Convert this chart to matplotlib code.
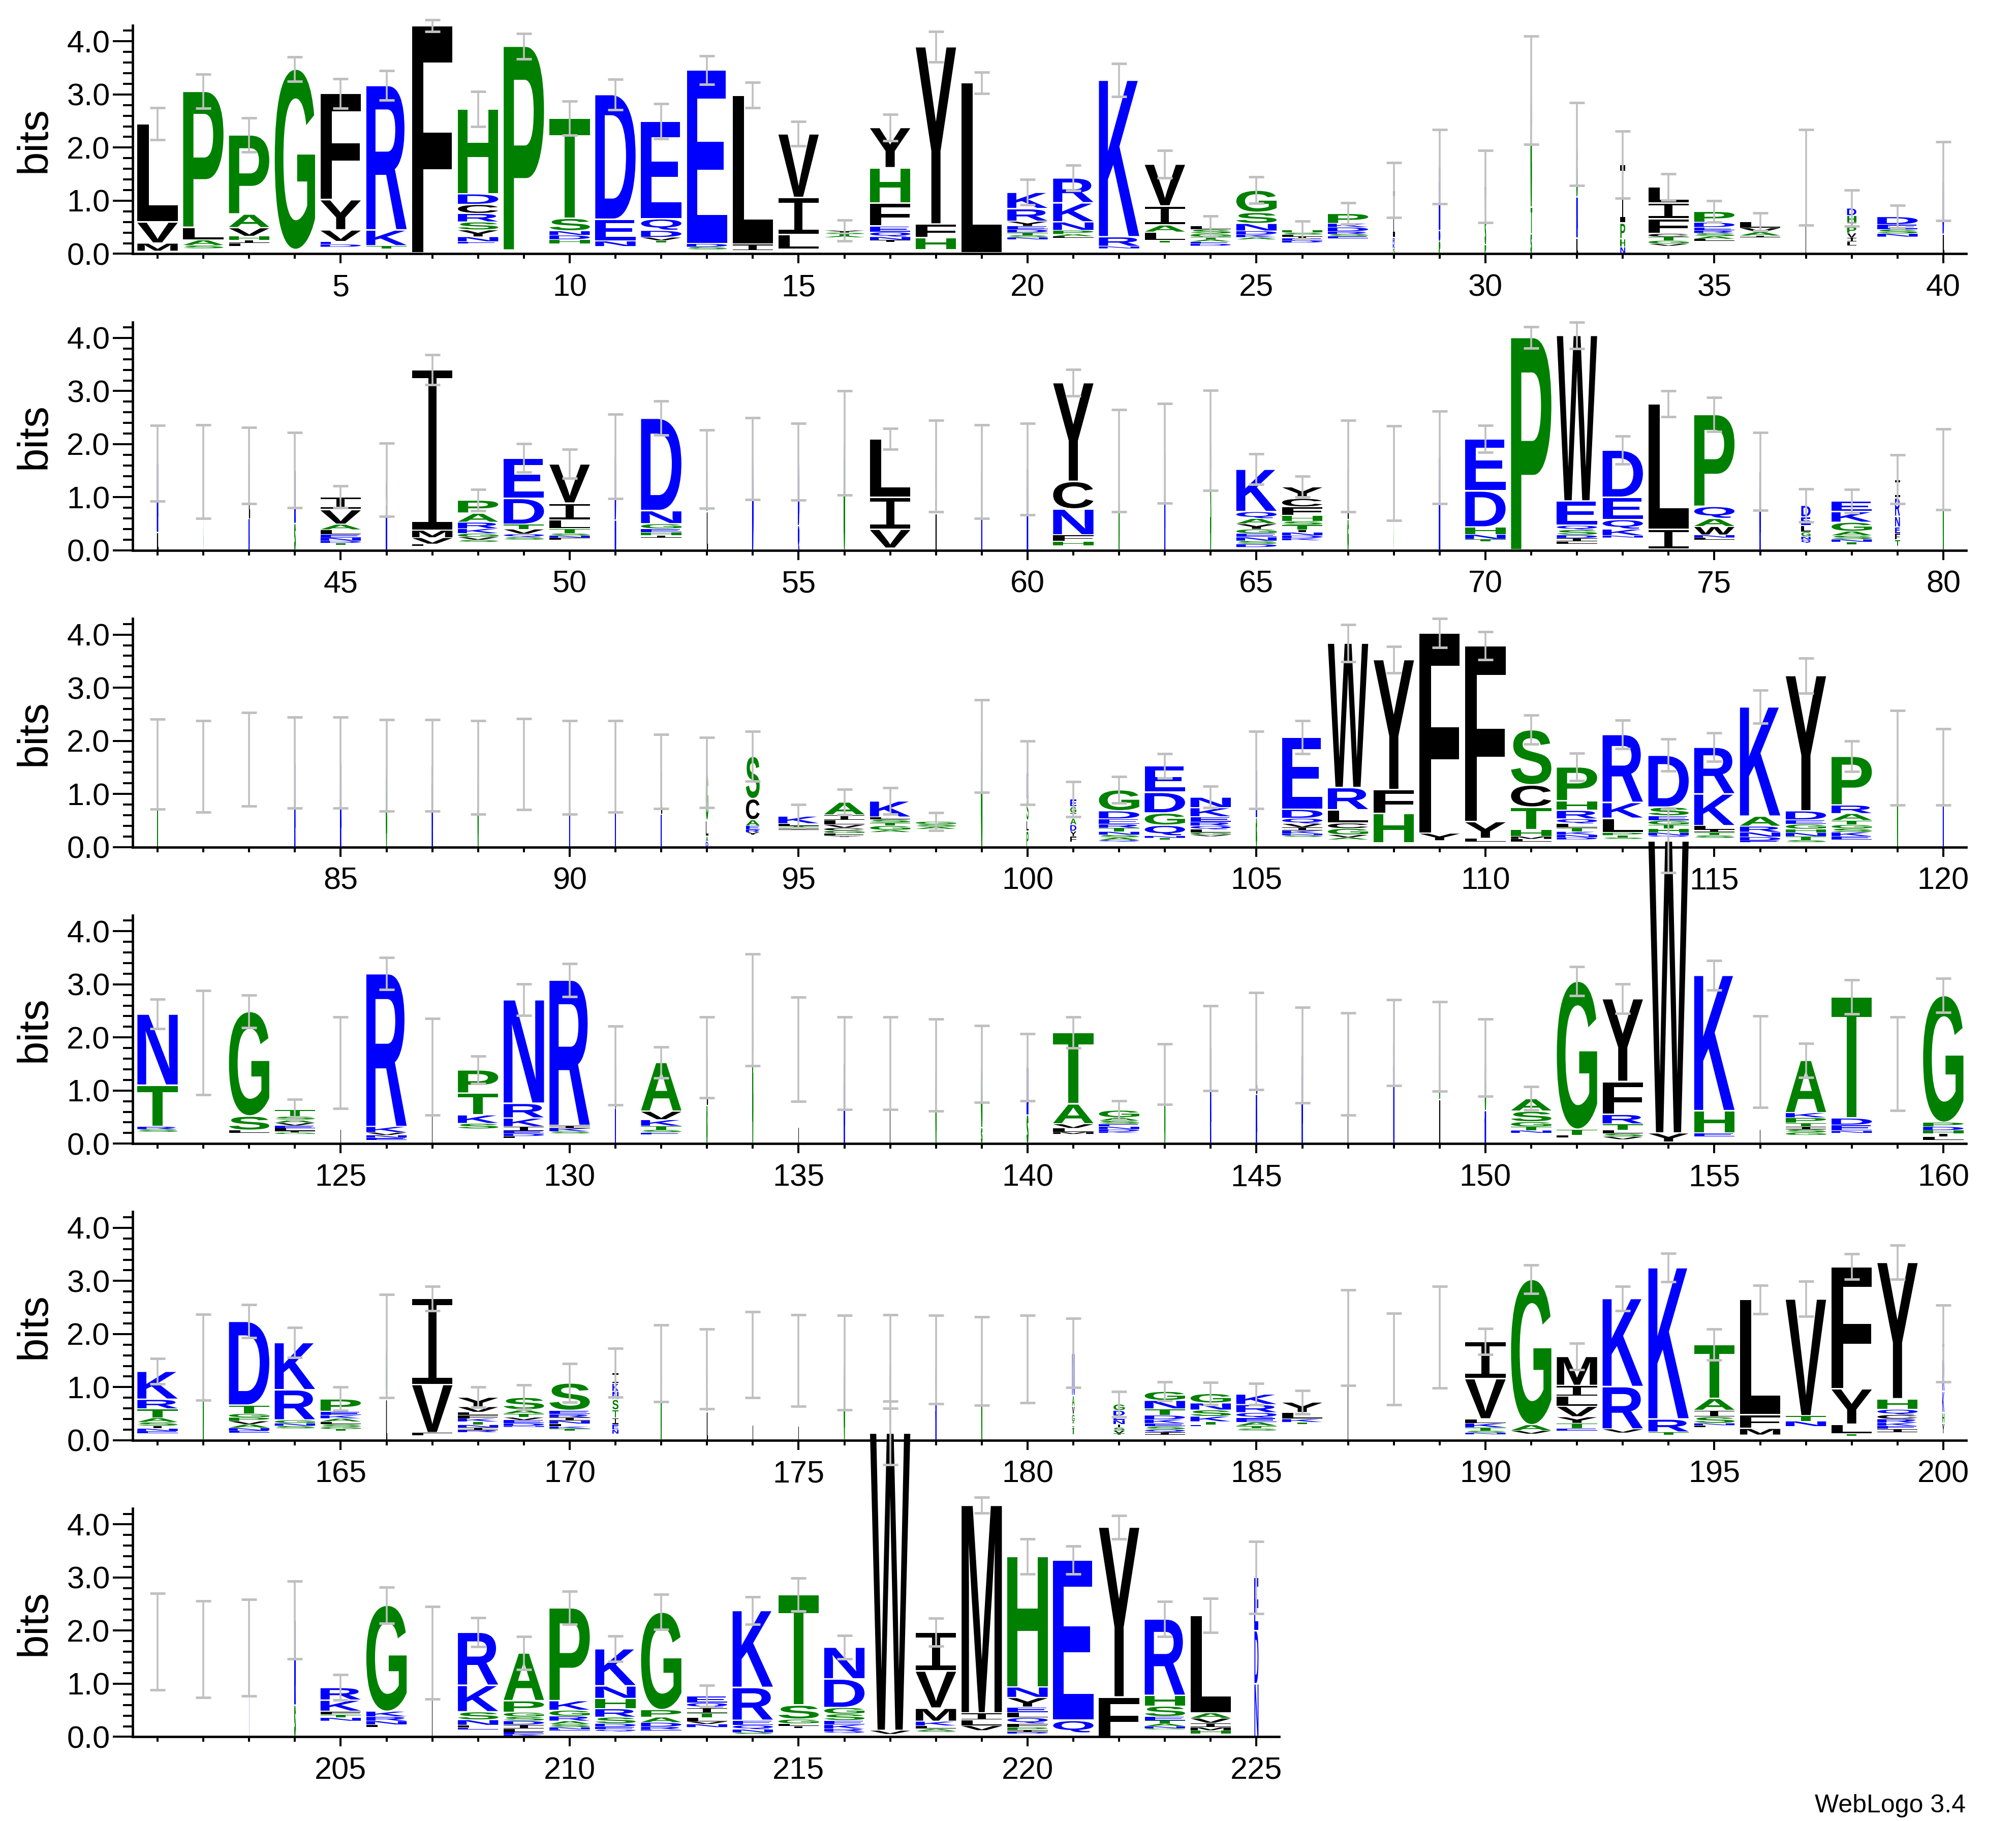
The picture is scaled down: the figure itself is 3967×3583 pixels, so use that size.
"""Sequence logo (WebLogo style, hydrophobicity colours) redrawn with matplotlib."""
import matplotlib

matplotlib.use("Agg")
import matplotlib.pyplot as plt
from matplotlib.font_manager import FontProperties
from matplotlib.patches import PathPatch
from matplotlib.path import Path
from matplotlib.textpath import TextPath
from matplotlib.ticker import FormatStrFormatter, MultipleLocator
from matplotlib.transforms import Affine2D

# stacks: letters listed top -> bottom as "letter:bits"; "." = unseen small residues
STACKS_1 = [
    "L:1.85 V:0.40 M:0.15 .:0.05", "P:2.56 L:0.24 A:0.10 S:0.06 .:0.10",
    "P:1.49 A:0.26 V:0.16 H:0.07 I:0.06 L:0.06 .:0.14", "G:3.40 .:0.08",
    "F:2.00 Y:0.57 V:0.22 E:0.05 D:0.05 .:0.13", "R:2.72 K:0.30 T:0.05 .:0.10",
    "F:4.28 .:0.02", "H:1.60 D:0.20 C:0.17 R:0.16 S:0.15 Y:0.13 N:0.09 E:0.04 .:0.19",
    "P:3.84 .:0.07", "T:1.88 S:0.24 N:0.08 D:0.08 H:0.08 .:0.19",
    "D:2.35 E:0.41 N:0.10 .:0.14", "E:1.84 Q:0.22 D:0.13 V:0.06 T:0.04 .:0.21",
    "E:3.27 D:0.06 S:0.05 .:0.08", "L:2.81 I:0.12 .:0.06",
    "V:1.20 I:0.70 L:0.28 .:0.08", "Y:0.04 S:0.03 T:0.03 A:0.03 .:0.31",
    "Y:0.76 H:0.66 F:0.44 E:0.11 Q:0.09 N:0.06 I:0.04 .:0.22", "Y:3.34 F:0.26 H:0.22 .:0.08",
    "L:3.20 .:0.02", "K:0.31 R:0.24 Y:0.09 E:0.06 D:0.06 T:0.05 S:0.04 N:0.04 .:0.27",
    "R:0.47 K:0.36 N:0.16 P:0.07 A:0.04 L:0.03 .:0.30", "K:2.95 R:0.18 N:0.04 .:0.10",
    "V:0.79 I:0.36 A:0.13 L:0.16 T:0.04 .:0.21", "L:0.06 S:0.08 G:0.06 T:0.05 A:0.04 E:0.04 D:0.04 .:0.15",
    "G:0.42 S:0.21 N:0.14 D:0.07 K:0.05 A:0.04 .:0.27", "H:0.05 S:0.04 L:0.04 I:0.03 E:0.04 D:0.04 .:0.21",
    "P:0.19 K:0.07 D:0.08 R:0.05 S:0.04 E:0.04 .:0.29", "I:0.90 R:0.10 K:0.10 S:0.10",
    "N:1.20 D:0.20 P:0.24", "V:0.60 S:0.50 P:0.17",
    "G:2.20 T:0.50 S:0.38", "G:1.00 N:0.77 L:0.30",
    "I:1.10 P:0.30 H:0.15 N:0.13", "L:0.30 I:0.30 F:0.28 C:0.06 T:0.07 G:0.06 V:0.04 .:0.15",
    "P:0.21 D:0.09 E:0.06 R:0.05 S:0.06 A:0.05 L:0.04 .:0.24", "L:0.11 V:0.08 A:0.07 I:0.03 .:0.31",
    "L:1.44", "D:0.14 H:0.13 I:0.08 P:0.12 V:0.09 I:0.07 L:0.08 .:0.15",
    "D:0.15 E:0.09 S:0.08 N:0.06 .:0.32", "D:1.00 L:0.37",
]
ERR_1 = [.30, .32, .32, .23, .28, .28, .11, .33, .24, .32, .29, .33, .27, .24, .23, .20, .25, .29, .20, .24,
         .24, .31, .26, .19, .25, .17, .20, .52, .70, .68, 1.02, .78, .63, .25, .20, .17, .90, .34, .21, .74]
WID_1 = [1] * 27 + [.05, .02, .02, .02, .02, .12, 1, 1, 1, .005, .23, 1, .02]

STACKS_2 = [
    "N:1.30 L:0.34", "S:1.48", "L:1.00 N:0.60", "N:1.00 S:0.51",
    "I:0.24 V:0.28 A:0.10 L:0.09 E:0.06 N:0.06 D:0.04 T:0.04 .:0.10", "S:0.70 N:0.63",
    "I:3.02 M:0.14 V:0.12 L:0.04 .:0.08", "P:0.25 A:0.17 R:0.12 K:0.09 G:0.07 V:0.05 S:0.04 .:0.16",
    "E:0.76 D:0.49 T:0.09 V:0.09 Q:0.06 S:0.05 .:0.20", "V:0.74 I:0.32 L:0.16 T:0.09 S:0.04 N:0.04 F:0.04 .:0.20",
    "D:1.20 N:0.57", "D:1.74 N:0.25 G:0.09 E:0.07 H:0.06 I:0.04 .:0.24",
    "G:0.80 L:0.73", "D:1.73", "D:1.20 Q:0.47", "G:2.02",
    "L:1.10 I:0.60 V:0.36 .:0.04", "S:0.90 L:0.69", "N:1.48", "N:1.53",
    "Y:1.86 C:0.52 N:0.49 F:0.12 H:0.08 .:0.09", "G:1.69", "N:1.83", "S:2.07",
    "K:0.80 Q:0.13 A:0.10 Y:0.10 G:0.08 E:0.07 N:0.07 S:0.06 D:0.06 .:0.06",
    "Y:0.22 C:0.16 F:0.16 H:0.11 S:0.07 T:0.09 I:0.05 N:0.06 D:0.05 K:0.04 .:0.19",
    "L:1.00 G:0.59", "G:1.45", "N:1.75", "E:0.98 D:0.68 H:0.14 N:0.09 T:0.04 .:0.17",
    "P:4.00 .:0.01", "W:3.12 E:0.46 Q:0.08 S:0.10 D:0.06 I:0.06 L:0.05 .:0.12",
    "D:0.89 E:0.42 Q:0.18 K:0.12 N:0.04 .:0.24", "L:2.36 I:0.38 .:0.02",
    "P:1.73 Q:0.23 A:0.15 W:0.16 N:0.05 L:0.04 .:0.20", "N:1.49",
    "D:0.22 E:0.16 L:0.12 G:0.09 N:0.06 Q:0.06 .:0.14", "E:0.20 K:0.20 G:0.17 A:0.08 S:0.07 N:0.05 T:0.05 .:0.11",
    "I:0.35 R:0.35 N:0.20 E:0.12 F:0.12 T:0.12 .:0.08", "G:1.53",
]
ERR_2 = [.71, .88, .72, .71, .21, .69, .28, .20, .27, .27, .79, .32, .74, .77, .72, .98, .20, .86, .88, .86,
         .25, .96, .94, .94, .29, .20, .86, .89, .87, .25, .20, .25, .26, .24, .32, .73, .31, .22, .46, .76]
WID_2 = [.02, .005, .01, .02, 1, .02, 1, 1, 1, 1, .02, 1, .01, .02, .02, .02, 1, .01, .01, .02,
         1, .01, .01, .01, 1, 1, .01, .005, .02, 1, 1, 1, 1, 1, 1, .01, .23, 1, .12, .01]

STACKS_3 = [
    "G:1.56", "L:1.52", "L:1.65", "N:1.59", "N:1.59", "G:1.54", "N:1.54", "G:1.50", "L:1.56", "N:1.50",
    "N:1.52", "L:0.80 N:0.62", "G:0.90 L:0.30 A:0.10 D:0.10",
    "S:0.80 C:0.40 A:0.11 E:0.07 R:0.05 Y:0.05 .:0.23", "K:0.14 L:0.04 T:0.04 I:0.04 .:0.32",
    "A:0.25 I:0.09 L:0.09 V:0.06 C:0.05 G:0.05 F:0.05 Y:0.02 .:0.19",
    "K:0.31 L:0.04 S:0.06 T:0.06 G:0.08 A:0.04 .:0.28", "G:0.05 S:0.05 A:0.04 .:0.34",
    "G:1.90", "K:0.50 S:0.40 L:0.20 P:0.30",
    "E:0.14 G:0.12 I:0.10 A:0.12 D:0.12 Y:0.10 F:0.10 .:0.10",
    "G:0.40 D:0.15 E:0.10 R:0.07 T:0.07 N:0.06 S:0.05 A:0.05 Q:0.03 .:0.10",
    "E:0.50 D:0.39 G:0.23 Q:0.20 N:0.04 T:0.03 .:0.14",
    "N:0.20 K:0.17 E:0.10 R:0.07 Q:0.07 L:0.06 G:0.04 V:0.03 .:0.20", "N:0.90 G:0.55",
    "E:1.36 D:0.17 Q:0.10 V:0.07 I:0.06 K:0.06 N:0.03 S:0.03 .:0.19",
    "W:2.72 R:0.42 L:0.25 C:0.10 G:0.12 V:0.05 A:0.04 .:0.14", "Y:2.45 F:0.45 H:0.55 .:0.08",
    "F:3.77 Y:0.14 .:0.12", "F:3.31 Y:0.32 L:0.06 .:0.10",
    "S:1.04 C:0.42 T:0.42 H:0.13 M:0.05 L:0.05 .:0.10",
    "P:0.64 H:0.18 R:0.16 Q:0.09 L:0.08 T:0.07 K:0.06 N:0.05 D:0.04 .:0.14",
    "R:1.28 K:0.30 L:0.27 P:0.05 T:0.04 S:0.03 .:0.15",
    "D:0.98 S:0.16 E:0.09 G:0.08 T:0.07 H:0.08 N:0.05 Q:0.03 .:0.19",
    "R:0.88 K:0.60 L:0.07 I:0.05 T:0.06 S:0.05 .:0.17", "K:2.06 A:0.19 R:0.11 N:0.09 D:0.07 E:0.03 .:0.09",
    "Y:2.55 D:0.17 E:0.08 G:0.09 H:0.07 N:0.07 T:0.07 S:0.04 .:0.09",
    "P:0.92 R:0.16 A:0.13 T:0.08 G:0.07 S:0.07 K:0.08 E:0.06 .:0.14", "G:1.68", "N:1.51",
]
ERR_3 = [.85, .86, .88, .86, .86, .86, .86, .88, .86, .88, .86, .70, .66, .47, .22, .24, .25, .17, .87, .60,
         .33, .25, .23, .20, .73, .31, .35, .25, .27, .26, .27, .26, .27, .30, .27, .31, .33, .29, .89, .72]
WID_3 = [.01, .005, .005, .01, .01, .01, .01, .01, .005, .01, .01, .01, .06, .34, 1, 1, 1, 1, .02, .05,
         .15, 1, 1, 1, .01, 1, 1, 1, 1, 1, 1, 1, 1, 1, 1, 1, 1, 1, .01, .01]

STACKS_4 = [
    "N:1.34 T:0.78 R:0.05 S:0.05 .:0.22", "L:1.90", "G:1.97 S:0.27 L:0.05 .:0.20",
    "T:0.13 S:0.06 A:0.06 V:0.05 E:0.05 L:0.05 I:0.03 G:0.03 .:0.18", "L:1.52",
    "R:2.88 K:0.11 V:0.05 N:0.05 E:0.04 .:0.07", "L:1.45", "P:0.44 T:0.41 K:0.16 S:0.10 .:0.28",
    "N:1.95 R:0.28 K:0.16 I:0.08 E:0.05 D:0.05 L:0.04 .:0.10", "R:2.74 I:0.05 K:0.06 S:0.04 .:0.19",
    "L:0.80 N:0.67", "A:0.92 V:0.16 K:0.12 T:0.07 S:0.05 E:0.04 .:0.17", "L:0.90 G:0.72",
    "G:2.52", "L:1.78", "N:1.51", "L:1.51", "G:1.48", "G:1.20 S:0.30", "N:0.90 S:0.54",
    "T:1.34 A:0.38 V:0.08 L:0.07 M:0.04 .:0.18", "G:0.14 A:0.06 S:0.06 E:0.05 N:0.05 D:0.04 K:0.03 .:0.20",
    "G:1.31", "N:1.80", "L:1.00 N:0.93", "N:1.67", "L:1.50", "N:1.90", "G:1.00 L:0.83", "G:1.00 N:0.62",
    "A:0.24 S:0.20 G:0.09 T:0.07 N:0.05 .:0.20", "G:2.79 T:0.11 L:0.05 .:0.11",
    "Y:1.56 F:0.62 R:0.18 T:0.12 L:0.06 S:0.06 V:0.05 .:0.08", "W:5.50 Y:0.17 .:0.03",
    "K:2.55 H:0.42 E:0.07 .:0.13", "L:1.54", "A:0.99 K:0.09 P:0.10 T:0.07 I:0.05 S:0.06 G:0.05 .:0.16",
    "T:2.28 D:0.13 E:0.11 N:0.04 .:0.20", "L:1.50", "G:2.39 P:0.08 D:0.07 H:0.06 I:0.06 L:0.07 .:0.06",
]
ERR_4 = [.28, .98, .31, .19, .86, .30, .91, .26, .30, .31, .74, .29, .76, 1.05, .98, .87, .87, .87, .72, .63,
         .29, .18, .57, .80, .91, .90, .96, .81, .84, .73, .22, .27, .28, .60, .28, .86, .32, .32, .88, .32]
WID_4 = [1, .005, 1, 1, .005, 1, .005, 1, 1, 1, .01, 1, .01, .01, .005, .01, .005, .01, .02, .03,
         1, 1, .01, .01, .01, .01, .005, .01, .01, .02, 1, 1, 1, 1, 1, .005, 1, 1, .005, 1]

STACKS_5 = [
    "K:0.53 R:0.18 T:0.17 A:0.08 S:0.07 I:0.05 N:0.05 E:0.04 .:0.13", "G:1.56",
    "D:1.58 T:0.16 G:0.07 P:0.07 V:0.06 A:0.07 N:0.05 E:0.04 .:0.14",
    "K:0.89 R:0.57 G:0.06 N:0.05 S:0.05 .:0.22",
    "P:0.24 E:0.07 K:0.06 A:0.06 L:0.05 S:0.05 G:0.04 T:0.03 .:0.18", "G:1.00 L:0.77",
    "I:1.62 V:0.91 F:0.05 .:0.09",
    "Y:0.18 V:0.10 L:0.06 F:0.06 K:0.06 T:0.06 N:0.05 I:0.05 R:0.04 .:0.15",
    "S:0.24 A:0.07 T:0.07 V:0.05 E:0.06 D:0.05 N:0.02 .:0.25",
    "S:0.52 E:0.07 R:0.06 I:0.06 N:0.06 L:0.05 K:0.04 T:0.04 .:0.18",
    "I:0.20 K:0.15 N:0.15 S:0.20 T:0.15 I:0.12 E:0.10 N:0.08 .:0.12",
    "G:1.45", "G:0.80 L:0.54", "L:1.61", "L:1.50", "G:1.46", "G:1.48", "G:0.80 N:0.72", "G:1.49", "L:1.53",
    "N:0.80 A:0.20 V:0.15 G:0.15 I:0.10 T:0.14 .:0.10",
    "G:0.12 D:0.10 E:0.08 N:0.08 I:0.06 S:0.06 V:0.05 T:0.03 .:0.10",
    "G:0.17 N:0.16 T:0.12 D:0.08 K:0.07 E:0.06 S:0.06 Q:0.05 I:0.05 .:0.10",
    "G:0.18 N:0.13 S:0.12 K:0.10 T:0.06 E:0.03 .:0.26",
    "K:0.20 R:0.15 Q:0.10 E:0.08 A:0.07 T:0.05 S:0.04 .:0.18", "Y:0.20 L:0.12 K:0.06 T:0.04 .:0.30",
    "L:1.93", "L:1.53", "L:1.94",
    "I:0.70 V:0.76 L:0.08 K:0.08 T:0.06 S:0.04 N:0.03 .:0.11", "G:2.74 A:0.11 V:0.06 .:0.12",
    "M:0.55 I:0.20 L:0.19 V:0.20 Y:0.12 T:0.10 E:0.04 .:0.18", "K:1.66 R:0.80 V:0.07 .:0.14",
    "K:2.85 R:0.25 T:0.05 .:0.10", "T:1.01 A:0.23 I:0.12 S:0.12 N:0.04 L:0.04 .:0.24",
    "L:2.17 F:0.26 M:0.12 .:0.10", "V:2.20 T:0.10 N:0.10 .:0.26", "F:2.30 Y:0.67 L:0.18 T:0.04 .:0.08",
    "Y:2.57 H:0.20 Q:0.10 C:0.08 R:0.07 K:0.06 E:0.06 I:0.06 .:0.15", "T:0.30 R:0.60 K:0.40 H:0.20 Y:0.20 .:0.12",
]
ERR_5 = [.24, .81, .31, .28, .22, .97, .23, .19, .23, .36, .46, .72, .75, .81, .86, .89, .88, .83, .83, .82,
         .65, .24, .18, .21, .20, .22, .90, .86, .96, .24, .27, .25, .23, .27, .29, .27, .33, .24, .32, .72]
WID_5 = [1, .01, 1, 1, 1, .01, 1, 1, 1, 1, .15, .01, .01, .005, .005, .01, .01, .01, .01, .005,
         .06, .28, 1, 1, 1, 1, .005, .005, .005, 1, 1, 1, 1, 1, 1, 1, 1, 1, 1, .05]

STACKS_6 = [
    "L:1.79", "L:1.65", "N:1.68", "N:1.60 S:0.60", "R:0.24 K:0.21 F:0.06 T:0.06 N:0.06 .:0.30",
    "G:2.00 K:0.10 R:0.08 N:0.07 L:0.05 .:0.18", "L:1.58",
    "R:1.00 K:0.50 S:0.15 N:0.10 L:0.05 E:0.03 .:0.14",
    "A:0.90 P:0.22 G:0.08 S:0.08 D:0.07 I:0.08 L:0.06 E:0.04 K:0.03 .:0.02",
    "P:1.75 K:0.18 G:0.11 R:0.09 A:0.06 S:0.06 N:0.04 E:0.02 .:0.12",
    "K:0.70 N:0.24 H:0.19 R:0.16 S:0.12 D:0.06 E:0.05 Q:0.04 .:0.10",
    "G:1.84 P:0.14 A:0.10 D:0.08 R:0.05 E:0.02 .:0.12",
    "E:0.13 Q:0.09 I:0.10 T:0.09 L:0.07 V:0.05 N:0.06 .:0.18",
    "K:1.45 R:0.62 E:0.09 Q:0.08 N:0.06 S:0.03 .:0.05", "T:2.08 S:0.27 G:0.08 L:0.05 I:0.04 .:0.16",
    "N:0.60 D:0.54 G:0.12 S:0.12 E:0.08 K:0.08 R:0.05 Q:0.03 .:0.07", "W:5.60 V:0.07 .:0.05",
    "I:0.73 V:0.70 M:0.25 K:0.08 L:0.06 A:0.04 S:0.02 .:0.09", "M:3.91 I:0.13 L:0.11 V:0.09 .:0.12",
    "H:2.46 N:0.20 Y:0.18 E:0.10 L:0.10 Q:0.11 F:0.07 P:0.05 I:0.04 D:0.03 .:0.06",
    "E:3.02 Q:0.24 .:0.07", "Y:3.20 F:0.75",
    "R:1.44 H:0.20 S:0.20 E:0.07 T:0.06 A:0.05 N:0.04 G:0.02 .:0.14",
    "L:1.84 A:0.10 V:0.09 I:0.08 M:0.06 H:0.06 .:0.06", "E:1.00 D:1.00 N:1.00",
]
ERR_6 = [.91, .91, .91, .73, .24, .34, .87, .27, .31, .31, .24, .33, .20, .26, .31, .22, .60, .26, .15, .33,
         .26, .22, .33, .32, .68]
WID_6 = [.005, .005, .005, .02, 1, 1, .005, 1, 1, 1, 1, 1, 1, 1, 1, 1, 1, 1, 1, 1, 1, 1, 1, 1, .1]

ROWS = [
    (1, STACKS_1, ERR_1, WID_1), (41, STACKS_2, ERR_2, WID_2), (81, STACKS_3, ERR_3, WID_3),
    (121, STACKS_4, ERR_4, WID_4), (161, STACKS_5, ERR_5, WID_5), (201, STACKS_6, ERR_6, WID_6),
]

BLUE = "#0000ff"
GREEN = "#008000"
BLACK = "#000000"
COLOR = {}
for grp, col in (("RKDENQ", BLUE), ("SGHTAP", GREEN), ("YVMCLFIW", BLACK)):
    for c in grp:
        COLOR[c] = col

FP = FontProperties(family="Liberation Sans", weight="bold")
_glyphs = {}


def i_path(bar):
    # WebLogo's I: full-width bars top and bottom, thin stem
    s0, s1 = 0.40, 0.60
    v = [(0, 0), (1, 0), (1, bar), (s1, bar), (s1, 1 - bar), (1, 1 - bar), (1, 1),
         (0, 1), (0, 1 - bar), (s0, 1 - bar), (s0, bar), (0, bar), (0, 0)]
    return Path(v, [Path.MOVETO] + [Path.LINETO] * 11 + [Path.CLOSEPOLY])


def glyph(ch):
    if ch not in _glyphs:
        p = TextPath((0, 0), ch, size=1, prop=FP)
        _glyphs[ch] = (p, p.get_extents())
    return _glyphs[ch]


def draw_letter(ax, ch, xc, y0, w, h, lw):
    gap = min(0.03, 0.12 * h)
    hh = h - gap
    if ch == "I":
        p = i_path(min(0.12, 0.16 / max(hh, 0.01) * 0.5 + 0.02))
        p = Affine2D().scale(w, hh).translate(xc - w / 2, y0 + gap / 2).transform_path(p)
    else:
        p, bb = glyph(ch)
        t = (Affine2D().translate(-bb.x0, -bb.y0)
             .scale(w / bb.width, hh / bb.height)
             .translate(xc - w / 2, y0 + gap / 2))
        p = t.transform_path(p)
    ax.add_patch(PathPatch(p, facecolor=COLOR[ch], edgecolor=COLOR[ch] if lw else "none",
                           lw=lw, clip_on=False, zorder=3))


W_PX, H_PX = 3967, 3583
SPACING = 90.1          # px per position
LEFT_PX = 261
BASE0 = 499.4           # px from top of the 0-bit line, first row
ROW_STEP = 583.6
BIT_PX = 104.5
YMAX = 4.3

fig = plt.figure(figsize=(W_PX / 100, H_PX / 100), dpi=100, facecolor="white")

for k, (start, stacks, errs, wids) in enumerate(ROWS):
    n = len(stacks)
    x0, x1 = start - 0.544, start + n - 0.5
    width_px = (x1 - x0) * SPACING
    base = BASE0 + ROW_STEP * k
    ax = fig.add_axes([LEFT_PX / W_PX, 1 - base / H_PX, width_px / W_PX, YMAX * BIT_PX / H_PX])
    ax.set_xlim(x0, x1)
    ax.set_ylim(0, YMAX)

    tops = []
    for i, (stack, wf) in enumerate(zip(stacks, wids)):
        pos = start + i
        items = [(t.split(":")[0], float(t.split(":")[1])) for t in stack.split()]
        y = 0.0
        lw = 0.9 if 0.005 < wf <= 0.03 else 0
        for ch, h in reversed(items):
            if ch != ".":
                draw_letter(ax, ch, pos, y, 0.88 * wf, h, lw)
            y += h
        tops.append(y)

    xs = [start + i for i in range(n)]
    ax.errorbar(xs, tops, yerr=errs, fmt="none", ecolor="#c0c0c0", elinewidth=2.6,
                capsize=11, capthick=3.6, zorder=5, clip_on=False)

    for s in ("top", "right"):
        ax.spines[s].set_visible(False)
    for s in ("left", "bottom"):
        ax.spines[s].set_linewidth(3.4)

    ax.xaxis.set_major_locator(MultipleLocator(5))
    ax.xaxis.set_minor_locator(MultipleLocator(1))
    ax.yaxis.set_major_locator(MultipleLocator(1))
    ax.yaxis.set_minor_locator(MultipleLocator(0.2))
    ax.yaxis.set_major_formatter(FormatStrFormatter("%.1f"))
    ax.tick_params(axis="y", which="major", length=28, width=2.9, pad=4, labelsize=44)
    ax.tick_params(axis="y", which="minor", length=14, width=2.9)
    ax.tick_params(axis="x", which="major", length=14, width=2.9, pad=14, labelsize=44)
    ax.tick_params(axis="x", which="minor", length=7, width=2.9)
    for lab in ax.get_xticklabels() + ax.get_yticklabels():
        lab.set_fontfamily("Liberation Sans")

    ax.text(-193 / width_px, 0.5, "bits", rotation=90, ha="center", va="center",
            transform=ax.transAxes, fontsize=60, family="Liberation Sans")

fig.text(3868 / W_PX, 1 - 3566 / H_PX, "WebLogo 3.4", ha="right", va="baseline",
         fontsize=36, family="Liberation Sans")

fig.savefig("out.png", dpi=100, facecolor="white")
